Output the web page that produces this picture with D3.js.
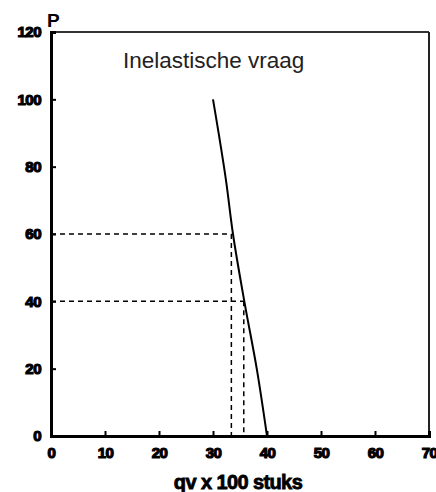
<!DOCTYPE html>
<html><head><meta charset="utf-8">
<script src="https://cdn.jsdelivr.net/npm/d3@7"></script>
<style>body{margin:0;background:#fff}svg{display:block}</style>
</head><body>
<script>
const xTicks = [0,10,20,30,40,50,60,70];
const yTicks = [0,20,40,60,80,100,120];
const demandQ = [30, 32.4, 33.7, 35.8, 38.1, 40];
const demandP = [100, 76, 60, 40, 20, 0];
const markQ = [33.4, 35.7];
const markP = [60, 40];
const title = "Inelastische vraag";
const xLabel = "qv x 100 stuks";
const yLabel = "P";

const W=436,H=492;
const svg=d3.select("body").append("svg").attr("width",W).attr("height",H);
const x=d3.scaleLinear().domain([0,70]).range([51,429]);
const y=d3.scaleLinear().domain([0,120]).range([436,32]);
const FF="Liberation Sans, Arial, sans-serif";

// frame
svg.append("line").attr("x1",x(0)).attr("x2",x(70)).attr("y1",y(120)).attr("y2",y(120)).attr("stroke","#333").attr("stroke-width",2);
svg.append("line").attr("x1",x(70)).attr("x2",x(70)).attr("y1",y(120)).attr("y2",y(0)).attr("stroke","#222").attr("stroke-width",2);

// dashed guides
markQ.forEach((q,i)=>{
  svg.append("line").attr("x1",x(0)).attr("x2",x(q)).attr("y1",y(markP[i])).attr("y2",y(markP[i]))
    .attr("stroke","#000").attr("stroke-width",1.5).attr("stroke-dasharray","5,4");
  svg.append("line").attr("x1",x(q)).attr("x2",x(q)).attr("y1",y(markP[i])).attr("y2",y(0))
    .attr("stroke","#000").attr("stroke-width",1.5).attr("stroke-dasharray","5,4");
});

// demand curve
const pts=demandQ.map((q,i)=>[q,demandP[i]]);
svg.append("path").datum(pts)
  .attr("d",d3.line().x(d=>x(d[0])).y(d=>y(d[1])).curve(d3.curveMonotoneY))
  .attr("fill","none").attr("stroke","#000").attr("stroke-width",2);

// axes
const xa=svg.append("g").attr("transform",`translate(0,${y(0)})`)
  .call(d3.axisBottom(x).tickValues(xTicks).tickSize(-5).tickPadding(9).tickFormat(d3.format("d")));
const ya=svg.append("g").attr("transform",`translate(${x(0)},0)`)
  .call(d3.axisLeft(y).tickValues(yTicks).tickSize(-5).tickPadding(10).tickFormat(d3.format("d")));
[xa,ya].forEach(g=>{
  g.select(".domain").attr("stroke","#000").attr("stroke-width",3);
  g.selectAll(".tick line").attr("stroke","#000").attr("stroke-width",2);
  g.selectAll("text").attr("font-family",FF).attr("font-weight","bold").attr("font-size",15)
    .attr("fill","#000").attr("stroke","#000").attr("stroke-width",1.2).attr("letter-spacing","-0.5");
});
xa.selectAll("text").attr("dy","0.85em");

// labels
svg.append("text").attr("x",47).attr("y",27).text(yLabel)
  .attr("font-family",FF).attr("font-weight","bold").attr("font-size",19);
svg.append("text").attr("x",238).attr("y",489).attr("text-anchor","middle").text(xLabel)
  .attr("font-family",FF).attr("font-weight","bold").attr("font-size",20)
  .attr("stroke","#000").attr("stroke-width",0.8).attr("letter-spacing","-0.6");
svg.append("text").attr("x",123).attr("y",68).text(title)
  .attr("font-family",FF).attr("font-size",22.5).attr("fill","#222");
</script>
</body></html>
